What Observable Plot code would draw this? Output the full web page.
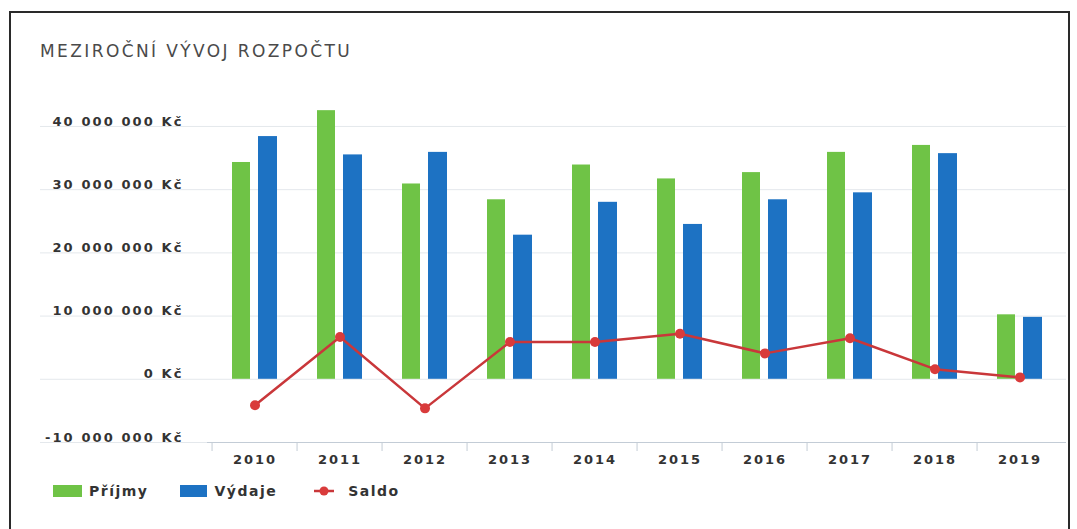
<!DOCTYPE html>
<html>
<head>
<meta charset="utf-8">
<script src="https://cdn.jsdelivr.net/npm/d3@7"></script>
<script src="https://cdn.jsdelivr.net/npm/@observablehq/plot@0.6"></script>
<style>
  html, body { margin: 0; padding: 0; background: #fff; }
  body { width: 1077px; height: 529px; position: relative; overflow: hidden; font-family: "DejaVu Sans", sans-serif; }
  #frame { position: absolute; left: 9px; top: 11px; width: 1061px; height: 540px; border: 2px solid #2a2a2a; box-sizing: border-box; }
  #title { position: absolute; left: 40px; top: 41px; font-size: 17px; color: #4a4a4a; letter-spacing: 2.4px; white-space: nowrap; }
  #chart { position: absolute; left: 0; top: 95px; }
  #chart svg .ylab text { letter-spacing: 2.1px; }
  #chart svg .xlab text { letter-spacing: 1.9px; }
  #legend { position: absolute; left: 53px; top: 483px; display: flex; align-items: center; font-size: 14px; font-weight: bold; color: #333; letter-spacing: 1.5px; }
  .item { display: flex; align-items: center; }
  .sw { width: 29px; height: 12px; margin-right: 7px; }
</style>
</head>
<body>
<div id="frame"></div>
<div id="title">MEZIROČNÍ VÝVOJ ROZPOČTU</div>
<div id="chart"></div>
<div id="legend">
  <div class="item" style="margin-right:32px"><div class="sw" style="background:#6fc346"></div>Příjmy</div>
  <div class="item" style="margin-right:35px"><div class="sw" style="background:#1d72c3;width:27px"></div>Výdaje</div>
  <div class="item"><svg width="30" height="12" style="margin-right:6px"><line x1="2" y1="6" x2="22" y2="6" stroke="#c9373a" stroke-width="2.5"/><circle cx="12" cy="6" r="4.5" fill="#d93b3b"/></svg>Saldo</div>
</div>
<script>
const years = ["2010","2011","2012","2013","2014","2015","2016","2017","2018","2019"];
const prijmy = [34.3, 42.5, 30.9, 28.4, 33.9, 31.7, 32.7, 35.9, 37.0, 10.2];
const vydaje = [38.4, 35.5, 35.9, 22.8, 28.0, 24.5, 28.4, 29.5, 35.7, 9.8];
const saldo  = [-4.1, 6.7, -4.6, 5.9, 5.9, 7.2, 4.1, 6.5, 1.6, 0.3];
const yTicks = [-10, 0, 10, 20, 30, 40];

const M = 1e6;
const data = years.map((y, i) => ({year: y, prijmy: prijmy[i] * M, vydaje: vydaje[i] * M, saldo: saldo[i] * M}));

const W = 1077, mL = 207, mR = 11;
const step = (W - mL - mR) / years.length;
const loc = d3.formatLocale({decimal: ",", thousands: " ", grouping: [3], currency: ["", " Kč"], minus: "-"});
const fmt = v => loc.format(",")(v) + " Kč";

const chart = Plot.plot({
  width: W,
  height: 380,
  marginLeft: mL,
  marginRight: mR,
  marginTop: 12,
  marginBottom: 33,
  style: {fontFamily: "DejaVu Sans, sans-serif", background: "transparent"},
  x: {domain: years, padding: 0, axis: null},
  y: {domain: [-10 * M, 43 * M], axis: null},
  marks: [
    Plot.ruleY(yTicks.map(t => t * M), {stroke: "#e4e8ec", strokeWidth: 1, insetLeft: -167}),
    Plot.ruleY([-10 * M], {stroke: "#c3ccd6", strokeWidth: 1}),
    Plot.axisY(yTicks.map(t => t * M), {anchor: "left", label: null, className: "ylab", tickSize: 0, tickPadding: 24, dy: -5, tickFormat: fmt, fontWeight: "bold", fontSize: 13, fill: "#333"}),
    Plot.axisX(years, {anchor: "bottom", label: null, tickSize: 9, tickFormat: () => "", dx: -step / 2, stroke: "#c3ccd6"}),
    Plot.axisX(years, {anchor: "bottom", label: null, className: "xlab", tickSize: 0, tickPadding: 12, fontWeight: "bold", fontSize: 13, fill: "#333"}),
    Plot.barY(data, {x: "year", y: "prijmy", fill: "#6fc346", insetLeft: 20, insetRight: 47}),
    Plot.barY(data, {x: "year", y: "vydaje", fill: "#1d72c3", insetLeft: 46, insetRight: 20}),
    Plot.line(data, {x: "year", y: "saldo", stroke: "#c9373a", strokeWidth: 2.5}),
    Plot.dot(data, {x: "year", y: "saldo", r: 5, fill: "#d93b3b", stroke: "none"})
  ]
});
document.getElementById("chart").appendChild(chart);
</script>
</body>
</html>
